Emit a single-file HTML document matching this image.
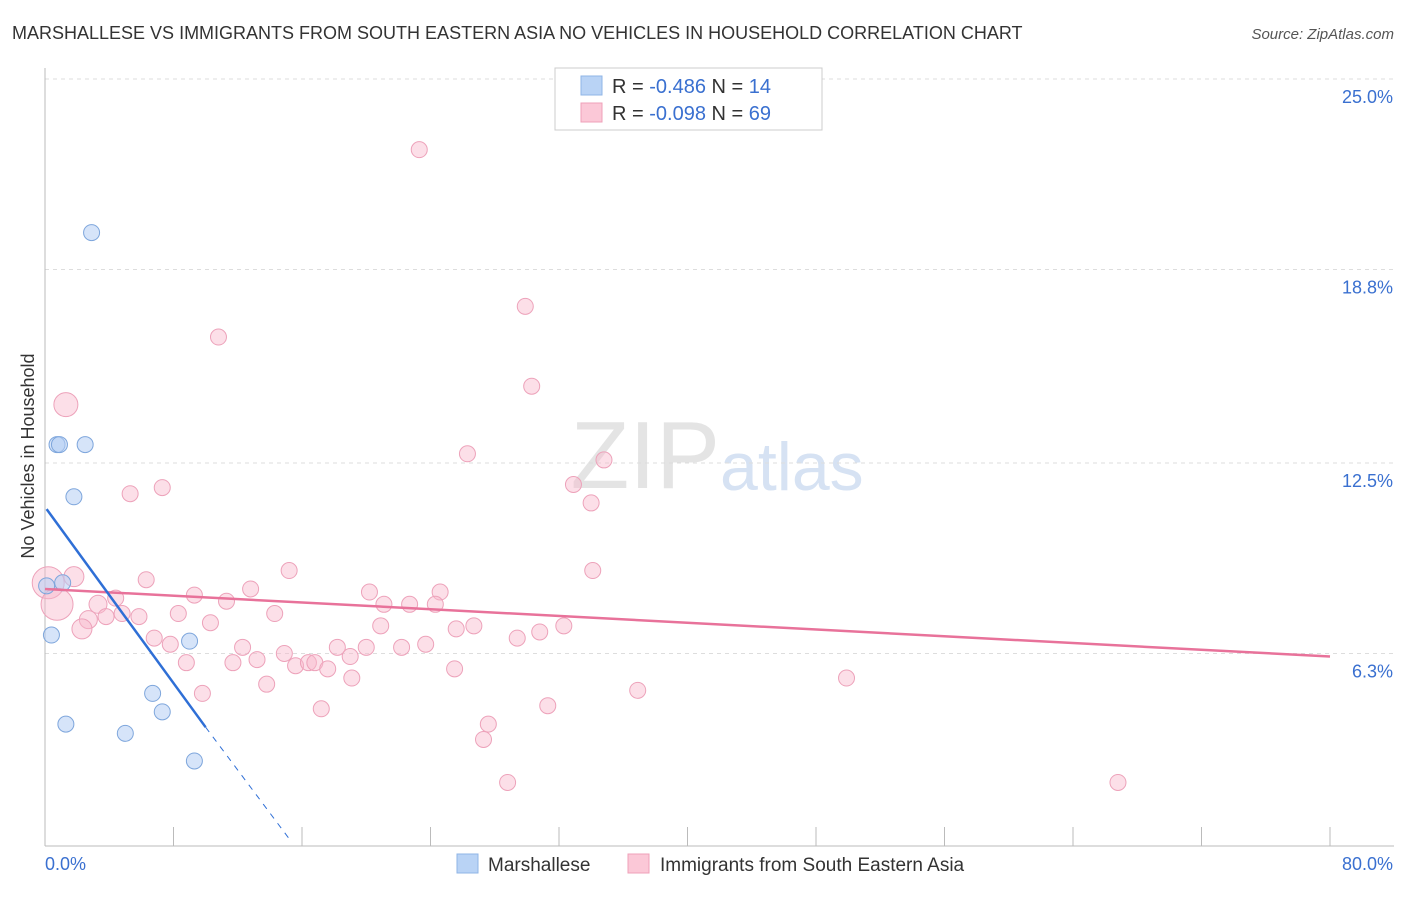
<!DOCTYPE html>
<html><head><meta charset="utf-8"><style>
body{margin:0;background:#fff;font-family:"Liberation Sans",sans-serif;}
svg text{font-family:"Liberation Sans",sans-serif;}
</style></head><body>
<svg id="chart" width="1406" height="892">
<text x="12" y="39" font-size="18" fill="#333">MARSHALLESE VS IMMIGRANTS FROM SOUTH EASTERN ASIA NO VEHICLES IN HOUSEHOLD CORRELATION CHART</text>
<text x="1394" y="39" font-size="15" fill="#555" font-style="italic" text-anchor="end">Source: ZipAtlas.com</text>
<text x="34" y="456" font-size="18" fill="#333" text-anchor="middle" transform="rotate(-90 34 456)">No Vehicles in Household</text>
<text x="720" y="488" font-size="96" fill="#e4e4e4" text-anchor="end" font-family="Liberation Serif">ZIP</text>
<text x="720" y="490" font-size="68" fill="#d6e2f3">atlas</text>
<g id="grid"></g><g id="marks"></g>
<g>
<rect x="555" y="68" width="267" height="62" fill="#fff" stroke="#ccc"/>
<rect x="581" y="76" width="21" height="19" fill="#b9d3f5" stroke="#8fb4e6"/>
<rect x="581" y="103" width="21" height="19" fill="#fbc8d7" stroke="#efa0b8"/>
<text x="612" y="93" font-size="20" fill="#333">R = <tspan fill="#3a70d0">-0.486</tspan>   N = <tspan fill="#3a70d0"> 14</tspan></text>
<text x="612" y="120" font-size="20" fill="#333">R = <tspan fill="#3a70d0">-0.098</tspan>   N = <tspan fill="#3a70d0">69</tspan></text>
</g>
<g>
<rect x="457" y="854" width="21" height="19" fill="#b9d3f5" stroke="#8fb4e6"/>
<text x="488" y="871" font-size="19" fill="#333">Marshallese</text>
<rect x="628" y="854" width="21" height="19" fill="#fbc8d7" stroke="#efa0b8"/>
<text x="660" y="871" font-size="19" fill="#333">Immigrants from South Eastern Asia</text>
</g>
</svg>
<script>
const yTicks=[25.0,18.8,12.5,6.3];
const yTickLabels=["25.0%","18.8%","12.5%","6.3%"];
const blueX=[0.1,1.1,0.75,0.9,2.5,2.9,1.8,0.4,9.0,6.7,7.3,1.3,5.0,9.3];
const blueY=[8.5,8.6,13.1,13.1,13.1,20.0,11.4,6.9,6.7,5.0,4.4,4.0,3.7,2.8];
const pinkX=[23.3,29.9,10.8,30.3,1.3,26.3,34.8,32.9,5.3,7.3,34.0,15.2,34.1,6.3,12.8,1.8,0.2,0.75,9.3,4.4,3.3,11.3,20.2,24.6,21.1,22.7,24.3,14.3,8.3,4.8,3.8,5.85,2.7,2.3,10.3,20.9,26.7,25.6,30.8,32.3,29.4,6.8,7.8,12.3,14.9,18.2,20.0,22.2,23.7,8.8,11.7,13.2,15.6,16.4,16.8,17.6,19.0,19.1,25.5,13.8,9.8,17.2,31.3,36.9,49.9,27.6,27.3,28.8,66.8];
const pinkY=[22.7,17.6,16.6,15.0,14.4,12.8,12.6,11.8,11.5,11.7,11.2,9.0,9.0,8.7,8.4,8.8,8.6,7.9,8.2,8.1,7.9,8.0,8.3,8.3,7.9,7.9,7.9,7.6,7.6,7.6,7.5,7.5,7.4,7.1,7.3,7.2,7.2,7.1,7.0,7.2,6.8,6.8,6.6,6.5,6.3,6.5,6.5,6.5,6.6,6.0,6.0,6.1,5.9,6.0,6.0,5.8,6.2,5.5,5.8,5.3,5.0,4.5,4.6,5.1,5.5,4.0,3.5,2.1,2.1];
const pinkR=[8,8,8,8,12,8,8,8,8,8,8,8,8,8,8,10,16,16,8,8,9,8,8,8,8,8,8,8,8,8,8,8,9,10,8,8,8,8,8,8,8,8,8,8,8,8,8,8,8,8,8,8,8,8,8,8,8,8,8,8,8,8,8,8,8,8,8,8,8];
const blueLine=[[0.1,11.0],[10.0,3.9]], blueDash=[[10.0,3.9],[15.3,0.2]];
const pinkLine=[[0,8.4],[80,6.2]];
const X=v=>45+v*1285/80, Y=v=>847-v*30.72;
const NS="http://www.w3.org/2000/svg";
const grid=document.getElementById('grid'), marks=document.getElementById('marks');
function mk(tag,attrs,parent){const e=document.createElementNS(NS,tag);for(const k in attrs)e.setAttribute(k,attrs[k]);parent.appendChild(e);return e;}
yTicks.forEach((t,i)=>{
 const l=mk('line',{x1:45,x2:1394,y1:Y(t),y2:Y(t),stroke:'#ddd','stroke-dasharray':'4,4'},grid);
 
 
 const tx=mk('text',{x:1393,y:Y(t)+24,'font-size':18,fill:'#3a70d0','text-anchor':'end'},grid);
 tx.textContent=yTickLabels[i];
 
 
});
const ax=mk('line',{x1:45,x2:45,y1:68,y2:846,stroke:'#bbb'},grid);


const bx=mk('line',{x1:45,x2:1394,y1:846,y2:846,stroke:'#bbb'},grid);


for(let i=1;i<=10;i++){
 const t=mk('line',{x1:X(i*8),x2:X(i*8),y1:827,y2:846,stroke:'#bbb'},grid);
 
 
}
const xl=mk('text',{x:45,y:870,'font-size':18,fill:'#3a70d0'},grid);xl.textContent='0.0%';


const xr=mk('text',{x:1393,y:870,'font-size':18,fill:'#3a70d0','text-anchor':'end'},grid);xr.textContent='80.0%';


pinkX.forEach((v,i)=>{
 const c=mk('circle',{cx:X(v),cy:Y(pinkY[i]),r:pinkR[i],fill:'rgba(248,184,204,0.45)',stroke:'#eda2ba','stroke-width':1},marks);
 
 
});
blueX.forEach((v,i)=>{
 const c=mk('circle',{cx:X(v),cy:Y(blueY[i]),r:8,fill:'rgba(180,206,244,0.55)',stroke:'#7ea6dc','stroke-width':1},marks);
 
 
});
const pl=mk('line',{x1:X(pinkLine[0][0]),y1:Y(pinkLine[0][1]),x2:X(pinkLine[1][0]),y2:Y(pinkLine[1][1]),stroke:'#e8729a','stroke-width':2.5},marks);


const bl=mk('line',{x1:X(blueLine[0][0]),y1:Y(blueLine[0][1]),x2:X(blueLine[1][0]),y2:Y(blueLine[1][1]),stroke:'#2f6fd6','stroke-width':2.5},marks);


const bd=mk('line',{x1:X(blueDash[0][0]),y1:Y(blueDash[0][1]),x2:X(blueDash[1][0]),y2:Y(blueDash[1][1]),stroke:'#2f6fd6','stroke-width':1,'stroke-dasharray':'6,6'},marks);


</script>
</body></html>
